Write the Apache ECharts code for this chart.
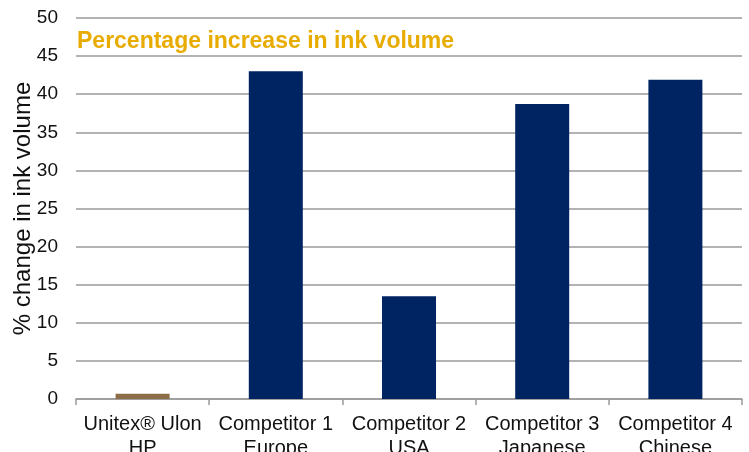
<!DOCTYPE html>
<html><head><meta charset="utf-8">
<script src="https://cdn.jsdelivr.net/npm/echarts@6/dist/echarts.min.js"></script>
<style>html,body{margin:0;padding:0;background:#fff}#c{width:749px;height:452px}</style>
</head><body><div id="c"></div>
<script>
const categories = ["Unitex® Ulon\nHP", "Competitor 1\nEurope", "Competitor 2\nUSA", "Competitor 3\nJapanese", "Competitor 4\nChinese"];
const values = [0.7, 43.0, 13.5, 38.7, 41.9];
const barColors = ["#8b6d46", "#002462", "#002462", "#002462", "#002462"];
const yTicks = {min: 0, max: 50, interval: 5};
const subtitle = "Percentage increase in ink volume";
const yName = "% change in ink volume";

const chart = echarts.init(document.getElementById('c'), null, {renderer: 'canvas'});
chart.setOption({
  animation: false,
  backgroundColor: '#fff',
  title: {
    text: subtitle, left: 72, top: 25,
    textStyle: {color: '#e8ac00', fontFamily: 'Liberation Sans', fontWeight: 'bold', fontSize: 23}
  },
  grid: {left: 76, right: 7, top: 18, bottom: 53, containLabel: false, outerBoundsMode: 'none'},
  xAxis: {
    type: 'category', data: categories,
    axisLine: {show: true, lineStyle: {color: '#9a9a9a', width: 1.5}},
    axisTick: {show: true, length: 6, lineStyle: {color: '#9a9a9a', width: 1.5}},
    axisLabel: {color: '#111', fontFamily: 'Liberation Sans', fontSize: 20, lineHeight: 24, margin: 13, interval: 0}
  },
  yAxis: {
    type: 'value', min: yTicks.min, max: yTicks.max, interval: yTicks.interval,
    name: yName, nameLocation: 'middle', nameGap: 41, nameRotate: 90, nameMoveOverlap: false,
    nameTextStyle: {color: '#111', fontFamily: 'Liberation Sans', fontSize: 24},
    axisLine: {show: false}, axisTick: {show: false},
    axisLabel: {color: '#111', fontFamily: 'Liberation Sans', fontSize: 19, margin: 18},
    splitLine: {show: true, lineStyle: {color: '#9a9a9a', width: 1.5}}
  },
  series: [{
    type: 'bar', barWidth: 54,
    data: values.map((v, i) => ({value: v, itemStyle: {color: barColors[i]}}))
  }]
});
</script></body></html>
